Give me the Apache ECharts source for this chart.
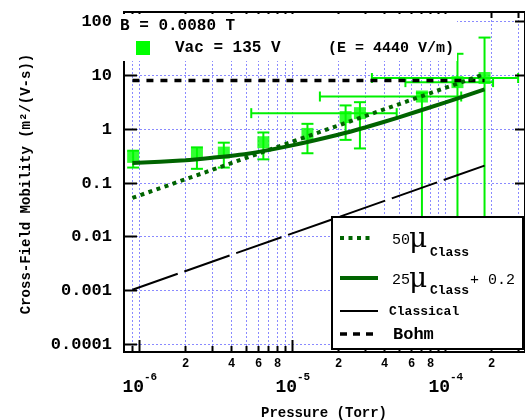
<!DOCTYPE html>
<html>
<head>
<meta charset="utf-8">
<script src="https://cdn.jsdelivr.net/npm/echarts@6.0.0/dist/echarts.min.js"></script>
<style>
  html, body { margin: 0; padding: 0; background: #fff; }
  #chart { width: 525px; height: 420px; }
</style>
</head>
<body>
<div id="chart"></div>
<script>
// measured points (Torr, m^2/(V-s))
const pressure     = [0.91e-6, 2.38e-6, 3.57e-6, 6.48e-6, 1.26e-5, 2.24e-5, 2.78e-5, 7.08e-5, 1.21e-4, 1.82e-4];
const mobility     = [0.30, 0.34, 0.36, 0.56, 0.80, 1.64, 1.94, 3.95, 7.3, 8.7];
const mobilityLow  = [0.19, 0.18, 0.19, 0.27, 0.35, 0.62, 0.43, 0.005, 0.005, 0.005];
const mobilityHigh = [0.39, 0.45, 0.55, 0.85, 1.23, 2.7, 3.1, 4.6, 24.5, 49];
const pressureLow  = [null, null, null, null, null, null, 5.4e-6, 1.52e-5, 5.52e-5, 3.33e-5];
const pressureHigh = [null, null, null, null, null, null, 4.84e-5, 1.28e-4, 2.07e-4, 3.02e-4];

// model curves
const lineP        = [0.9e-6, 1.82e-4];
const classicalMu  = [0.00103, 0.206];
const fiftyMu      = [0.052, 10.3];
const bohmMu       = [7.8, 7.8];
const curveP       = [0.9e-6, 2e-6, 3e-6, 5e-6, 1e-5, 2e-5, 3e-5, 5e-5, 1e-4, 1.82e-4];
const curveMu      = [0.23, 0.26, 0.29, 0.34, 0.49, 0.77, 1.05, 1.62, 3.05, 5.35];

// axis ticks
const xMajor       = [1e-6, 1e-5, 1e-4];
const xMajorExp    = ['-6', '-5', '-4'];
const xMinor       = [9e-7, 2e-6, 3e-6, 4e-6, 5e-6, 6e-6, 7e-6, 8e-6, 9e-6,
                      2e-5, 3e-5, 4e-5, 5e-5, 6e-5, 7e-5, 8e-5, 9e-5, 2e-4, 3e-4];
const xMinorLabelAt = [2e-6, 4e-6, 6e-6, 8e-6, 2e-5, 4e-5, 6e-5, 8e-5, 2e-4];
const xMinorLabels  = ['2', '4', '6', '8', '2', '4', '6', '8', '2'];
const yMajor       = [1e-4, 1e-3, 0.01, 0.1, 1, 10, 100];
const yLabels      = ['0.0001', '0.001', '0.01', '0.1', '1', '10', '100'];

const mono = '"Liberation Mono", "DejaVu Sans Mono", monospace';
const gridBlue = '#8a8aff';
const dataGreen = '#00f000';
const darkGreen = '#006400';

const chart = echarts.init(document.getElementById('chart'));

function axisSeries(data, z, draw) {
  return {
    type: 'custom', coordinateSystem: 'cartesian2d', silent: true, clip: false,
    animation: false, z: z, data: data,
    renderItem: (params, api) => draw(params.coordSys, api, params.dataIndex)
  };
}
const px = (api, v) => Math.round(api.coord([v, 1])[0]) + 0.5;
const py = (api, v) => Math.round(api.coord([1e-5, v])[1]) + 0.5;

const seg = (x1, y1, x2, y2, style) => ({ type: 'line', shape: { x1, y1, x2, y2 }, style });
const txt = (x, y, text, font, align) => ({
  type: 'text', x, y, style: { text, font, fill: '#000', align: align || 'center', verticalAlign: 'middle' }
});

const series = [
  // vertical grid lines
  axisSeries(xMajor.concat(xMinor).map(v => [v, 1]), 1, (cs, api, i) => {
    const x = px(api, xMajor.concat(xMinor)[i]);
    return seg(x, cs.y, x, cs.y + cs.height, { stroke: gridBlue, lineWidth: 1, lineDash: [2, 2] });
  }),
  // horizontal grid lines
  axisSeries(yMajor.map(v => [1e-5, v]), 1, (cs, api, i) => {
    const y = py(api, yMajor[i]);
    return seg(cs.x, y, cs.x + cs.width, y, { stroke: gridBlue, lineWidth: 1, lineDash: [2, 2] });
  }),
  // error bars
  {
    type: 'custom', coordinateSystem: 'cartesian2d', silent: true, clip: false, animation: false, z: 3,
    data: pressure.map((p, i) => [p, mobility[i]]),
    renderItem: (params, api) => {
      const i = params.dataIndex;
      const st = { stroke: dataGreen, lineWidth: 2 };
      const c = api.coord([pressure[i], mobility[i]]);
      const lo = api.coord([pressure[i], mobilityLow[i]]);
      const hi = api.coord([pressure[i], mobilityHigh[i]]);
      const ch = [
        seg(c[0], lo[1], c[0], hi[1], st),
        seg(c[0] - 6, lo[1], c[0] + 6, lo[1], st),
        seg(c[0] - 6, hi[1], c[0] + 6, hi[1], st)
      ];
      if (pressureLow[i] !== null) {
        const l = api.coord([pressureLow[i], mobility[i]]);
        const r = api.coord([pressureHigh[i], mobility[i]]);
        ch.push(seg(l[0], c[1], r[0], c[1], st));
        ch.push(seg(l[0], c[1] - 5, l[0], c[1] + 5, st));
        ch.push(seg(r[0], c[1] - 5, r[0], c[1] + 5, st));
      }
      return { type: 'group', children: ch };
    }
  },
  {
    type: 'scatter', z: 4, symbol: 'rect', symbolSize: 12, animation: false, silent: true,
    itemStyle: { color: '#00ff00' },
    data: pressure.map((p, i) => [p, mobility[i]])
  },
  {
    type: 'line', z: 5, showSymbol: false, symbol: 'none', animation: false, silent: true,
    lineStyle: { color: '#000', width: 2, type: [48, 7] },
    data: lineP.map((p, i) => [p, classicalMu[i]])
  },
  {
    type: 'line', z: 5, showSymbol: false, symbol: 'none', animation: false, silent: true,
    lineStyle: { color: '#000', width: 3.5, type: [7, 7] },
    data: lineP.map((p, i) => [p, bohmMu[i]])
  },
  {
    type: 'line', z: 5, showSymbol: false, symbol: 'none', animation: false, silent: true,
    lineStyle: { color: darkGreen, width: 4, type: [4, 4.5] },
    data: lineP.map((p, i) => [p, fiftyMu[i]])
  },
  {
    type: 'line', z: 5, showSymbol: false, symbol: 'none', animation: false, silent: true, smooth: 0.2,
    lineStyle: { color: darkGreen, width: 4 },
    data: curveP.map((p, i) => [p, curveMu[i]])
  },
  // x ticks (bottom and top) and labels
  axisSeries(xMajor.map(v => [v, 1]), 6, (cs, api, i) => {
    const x = px(api, xMajor[i]);
    const b = cs.y + cs.height, t = cs.y;
    return { type: 'group', children: [
      seg(x, b, x, b - 12, { stroke: '#000', lineWidth: 2 }),
      seg(x, t, x, t + 12, { stroke: '#000', lineWidth: 2 }),
      txt(x + 4.5, 387, '10', 'bold 18px ' + mono, 'right'),
      txt(x + 4.5, 377, xMajorExp[i], 'bold 11px ' + mono, 'left')
    ] };
  }),
  axisSeries(xMinor.map(v => [v, 1]), 6, (cs, api, i) => {
    const x = px(api, xMinor[i]);
    const b = cs.y + cs.height, t = cs.y;
    return { type: 'group', children: [
      seg(x, b, x, b - 6, { stroke: '#000', lineWidth: 2 }),
      seg(x, t, x, t + 6, { stroke: '#000', lineWidth: 2 })
    ] };
  }),
  axisSeries(xMinorLabelAt.map(v => [v, 1]), 6, (cs, api, i) =>
    txt(px(api, xMinorLabelAt[i]), 364, xMinorLabels[i], 'bold 12px ' + mono)),
  // y ticks (left and right) and labels
  axisSeries(yMajor.map(v => [1e-5, v]), 6, (cs, api, i) => {
    const y = py(api, yMajor[i]);
    const l = cs.x, r = cs.x + cs.width;
    return { type: 'group', children: [
      seg(l, y, l + 13, y, { stroke: '#000', lineWidth: 2 }),
      seg(r, y, r - 10, y, { stroke: '#000', lineWidth: 2 }),
      txt(112, y, yLabels[i], 'bold 17px ' + mono, 'right')
    ] };
  })
];

const gTxt = (x, y, text, font, align, extra) => Object.assign({
  type: 'text', x, y, z: 100,
  style: { text, font, fill: '#000', align: align || 'left', verticalAlign: 'middle' }
}, extra || {});
const gLine = (x1, y1, x2, y2, style) => ({ type: 'line', z: 100, shape: { x1, y1, x2, y2 }, style });

const graphic = [
  // key box at the top
  { type: 'rect', z: 99, shape: { x: 117, y: 14, width: 340, height: 47 }, style: { fill: '#fff' } },
  gTxt(120, 26, 'B = 0.0080 T', 'bold 16px ' + mono),
  { type: 'rect', z: 100, shape: { x: 136, y: 41, width: 14, height: 14 }, style: { fill: '#00ff00' } },
  gTxt(175, 48, 'Vac = 135 V', 'bold 16px ' + mono),
  gTxt(328, 48, '(E = 4440 V/m)', 'bold 15px ' + mono),
  // legend box
  { type: 'rect', z: 99, shape: { x: 332, y: 217, width: 191, height: 132 },
    style: { fill: '#fff', stroke: '#000', lineWidth: 2 } },
  gLine(340, 238, 373, 238, { stroke: darkGreen, lineWidth: 4, lineDash: [4, 4.5] }),
  gTxt(392, 240, '50', '15px ' + mono),
  gTxt(409, 240, 'μ', '28px "DejaVu Serif", serif'),
  gTxt(430, 253, 'Class', 'bold 13px ' + mono),
  gLine(340, 278, 378, 278, { stroke: darkGreen, lineWidth: 4 }),
  gTxt(392, 280, '25', '15px ' + mono),
  gTxt(409, 280, 'μ', '28px "DejaVu Serif", serif'),
  gTxt(430, 291, 'Class', 'bold 13px ' + mono),
  gTxt(470, 280, '+ 0.2', '15px ' + mono),
  gLine(340, 311, 378, 311, { stroke: '#000', lineWidth: 2 }),
  gTxt(389, 312, 'Classical', 'bold 13px ' + mono),
  gLine(340, 334, 375, 334, { stroke: '#000', lineWidth: 3.5, lineDash: [7, 6] }),
  gTxt(393, 335, 'Bohm', 'bold 17px ' + mono),
  // axis titles
  gTxt(324, 413, 'Pressure (Torr)', 'bold 14px ' + mono, 'center'),
  gTxt(26, 184, 'Cross-Field Mobility (m²/(V-s))', 'bold 14px ' + mono, 'center', { rotation: Math.PI / 2 })
];

chart.setOption({
  animation: false,
  grid: { left: 124, right: -2, top: 12, bottom: 68, show: true,
          borderColor: '#000', borderWidth: 2, backgroundColor: 'transparent' },
  xAxis: { type: 'log', min: 0.7925e-6, max: 335e-6,
           axisLine: { show: false }, axisTick: { show: false },
           axisLabel: { show: false }, splitLine: { show: false } },
  yAxis: { type: 'log', min: 7.2e-5, max: 146,
           axisLine: { show: false }, axisTick: { show: false },
           axisLabel: { show: false }, splitLine: { show: false } },
  series: series,
  graphic: graphic
});
</script>
</body>
</html>
